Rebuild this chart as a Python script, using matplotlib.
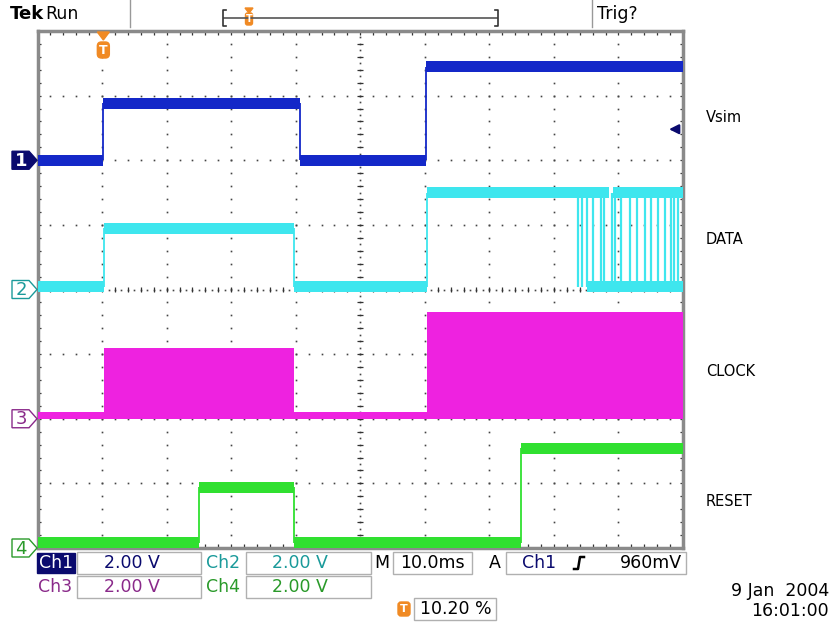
import numpy as np
import matplotlib
matplotlib.use("Agg")
import matplotlib.pyplot as plt
from matplotlib.patches import Polygon, Rectangle, FancyBboxPatch

# scope settings: 10 x 8 divisions, 2.00 V/div on every channel
volts_per_div = 2.0

# channel 1 (Vsim): edge times in divisions, level in volts between them
ch1_t = [0.0, 1.02, 4.07, 6.02, 10.0]
ch1_v = [0.0, 1.76, 0.0, 2.90]
ch1_gnd = 2.0

# channel 2 (DATA)
ch2_t = [0.0, 1.03, 3.97, 6.03, 8.37]
ch2_v = [0.08, 1.90, 0.08, 3.00]
ch2_gnd = 0.0
# toggling part at the right end of DATA
ch2_burst_start = 8.37
ch2_burst_low_start = 8.52
ch2_burst_gap = (8.85, 8.91)
ch2_burst_edges = [8.37, 8.44, 8.52, 8.60, 8.73, 8.78, 8.90, 8.95, 9.04,
                   9.18, 9.28, 9.41, 9.51, 9.62, 9.72, 9.82, 9.86, 9.93]

# channel 3 (CLOCK): upper envelope of the fast clock
ch3_t = [0.0, 1.03, 3.97, 6.03, 10.0]
ch3_top = [0.16, 2.14, 0.16, 3.26]
ch3_low = 0.16
ch3_gnd = -2.0

# channel 4 (RESET)
ch4_t = [0.0, 2.50, 3.98, 7.49, 10.0]
ch4_v = [0.16, 1.88, 0.16, 3.08]
ch4_gnd = -4.0

trig_pos = 1.02        # 10.20 % of record
trig_level = 0.96      # volts on ch1

labels = ["Vsim", "DATA", "CLOCK", "RESET"]
label_y = [117, 240, 371, 502]

c1 = "#1428c8"
c2 = "#3ee6ee"
c3 = "#ee22e0"
c4 = "#30e030"
orange = "#f08a24"
navy = "#0a0a6e"

W, H = 834, 625
fig = plt.figure(figsize=(W / 100, H / 100), dpi=100)
fig.patch.set_facecolor("white")

gl, gr, gt, gb = 37.5, 683.0, 31.0, 548.0
ax = fig.add_axes([gl / W, 1 - gb / H, (gr - gl) / W, (gb - gt) / H])
ax.set_xlim(0, 10)
ax.set_ylim(-4, 4)
ax.set_xticks([])
ax.set_yticks([])
for s in ax.spines.values():
    s.set_color("#8a8a8a")
    s.set_linewidth(2.5)

# graticule dots
gdot = dict(ls="none", marker="s", ms=1.2, color="#444444", mew=0)
fine_y = np.arange(-4, 4.001, 0.2)
fine_x = np.arange(0, 10.001, 0.2)
for xv in range(1, 10):
    if xv == 5:
        continue
    ax.plot(np.full(len(fine_y), xv), fine_y, **gdot)
for yv in range(-3, 4):
    if yv == 0:
        continue
    ax.plot(fine_x, np.full(len(fine_x), yv), **gdot)
# centre crosshair with minor ticks
ax.plot(np.full(81, 5.0), np.linspace(-4, 4, 81), **gdot)
ax.plot(np.linspace(0, 10, 101), np.zeros(101), **gdot)
ax.hlines(fine_y, 4.955, 5.045, color="#333333", lw=0.9)
ax.vlines(fine_x, -0.045, 0.045, color="#333333", lw=0.9)
# ticks along the frame
for xv in fine_x:
    ax.vlines(xv, 3.94, 4, color="#333333", lw=0.9)
    ax.vlines(xv, -4, -3.94, color="#333333", lw=0.9)
for yv in fine_y:
    ax.hlines(yv, 0, 0.05, color="#333333", lw=0.9)
    ax.hlines(yv, 9.95, 10, color="#333333", lw=0.9)

band = 0.085


def draw_trace(t, v, gnd, color, zo=3):
    y = [gnd + val / volts_per_div for val in v]
    for i in range(len(y)):
        ax.fill_between([t[i], t[i + 1]], y[i] - band, y[i] + band,
                        color=color, lw=0, zorder=zo)
        if i > 0:
            ax.vlines(t[i], min(y[i - 1], y[i]), max(y[i - 1], y[i]),
                      color=color, lw=1.3, zorder=zo)


draw_trace(ch1_t, ch1_v, ch1_gnd, c1)
draw_trace(ch2_t, ch2_v, ch2_gnd, c2)
draw_trace(ch4_t, ch4_v, ch4_gnd, c4)

# DATA burst
hi2 = ch2_gnd + ch2_v[-1] / volts_per_div
lo2 = ch2_gnd + ch2_v[0] / volts_per_div
ax.fill_between([ch2_burst_start, ch2_burst_gap[0]], hi2 - band, hi2 + band,
                color=c2, lw=0, zorder=3)
ax.fill_between([ch2_burst_gap[1], 10], hi2 - band, hi2 + band,
                color=c2, lw=0, zorder=3)
ax.fill_between([ch2_burst_low_start, 10], lo2 - band, lo2 + band,
                color=c2, lw=0, zorder=3)
ax.vlines(ch2_burst_edges, lo2, hi2, color=c2, lw=1.6, zorder=3)

# CLOCK envelope
y3low = ch3_gnd + ch3_low / volts_per_div
for i in range(len(ch3_top)):
    top = ch3_gnd + ch3_top[i] / volts_per_div
    ax.fill_between([ch3_t[i], ch3_t[i + 1]], y3low - band, top + 0.02,
                    color=c3, lw=0, zorder=3)

# trigger level arrow on the right
ty = ch1_gnd + trig_level / volts_per_div
ax.annotate("", xy=(9.74, ty), xytext=(9.97, ty),
            arrowprops=dict(arrowstyle="-|>", color=navy, lw=1.6,
                            mutation_scale=14))

# overlay in pixel coordinates for the screen furniture
ov = fig.add_axes([0, 0, 1, 1])
ov.set_xlim(0, W)
ov.set_ylim(H, 0)
ov.axis("off")
ov.patch.set_alpha(0)

font = ["Liberation Sans Narrow", "DejaVu Sans"]

# header
ov.text(10, 14, "Tek", fontsize=13, fontweight="bold", family=font,
        va="center", ha="left", color="black")
ov.text(45, 14, "Run", fontsize=12.5, family=font, va="center", ha="left")
ov.text(597, 14, "Trig?", fontsize=12.5, family=font, va="center", ha="left")
ov.plot([130, 130], [0, 27], color="#999999", lw=1)
ov.plot([592, 592], [0, 27], color="#999999", lw=1)
ov.plot([224, 497], [18, 18], color="#555555", lw=1.2)
ov.plot([226, 223, 223, 226], [10, 10, 26, 26], color="#333333", lw=1.2)
ov.plot([495, 498, 498, 495], [10, 10, 26, 26], color="#333333", lw=1.2)
ov.add_patch(Polygon([[245, 8], [253, 8], [249, 13]], color=orange))
ov.add_patch(FancyBboxPatch((245.5, 13), 7, 12, boxstyle="round,pad=0,rounding_size=2",
                            color=orange))
ov.text(249, 19.5, "T", color="white", fontsize=7, ha="center", va="center",
        fontweight="bold")

# trigger position marker on graticule
tx = gl + trig_pos * (gr - gl) / 10
ov.add_patch(Polygon([[tx - 6, 32], [tx + 6, 32], [tx, 40]], color=orange))
ov.add_patch(FancyBboxPatch((tx - 6, 42), 12, 16, boxstyle="round,pad=0,rounding_size=4",
                            color=orange))
ov.text(tx, 50, "T", color="white", fontsize=9, ha="center", va="center",
        fontweight="bold")

# channel ground markers


def ypix(div):
    return gt + (4 - div) * (gb - gt) / 8


markers = [("1", ch1_gnd, navy, True), ("2", ch2_gnd, "#1a9a9a", False),
           ("3", ch3_gnd, "#8a2a8a", False), ("4", ch4_gnd, "#2a9a2a", False)]
for num, g, col, filled in markers:
    yc = ypix(g)
    pts = [[12, yc - 9], [29, yc - 9], [37, yc], [29, yc + 9], [12, yc + 9]]
    if filled:
        ov.add_patch(Polygon(pts, closed=True, fc=col, ec=col, lw=1))
        ov.text(21, yc + 0.5, num, color="white", fontsize=13, ha="center",
                va="center", family=font, fontweight="bold")
    else:
        ov.add_patch(Polygon(pts, closed=True, fc="white", ec=col, lw=1))
        ov.text(21, yc + 0.5, num, color=col, fontsize=13, ha="center",
                va="center", family=font)

# channel names on the right
for lab, ly in zip(labels, label_y):
    ov.text(706, ly, lab, fontsize=10.5, ha="left", va="center",
            family="DejaVu Sans", color="black")

# bottom readouts
rs = 12.5
box_ec = "#b0b0b0"


def rbox(x0, x1, y0, y1):
    ov.add_patch(Rectangle((x0, y0), x1 - x0, y1 - y0, fc="white",
                           ec=box_ec, lw=1))


r1, r2, r3 = 563, 587, 609
ov.add_patch(Rectangle((37, r1 - 10), 38, 20, fc=navy, ec=navy))
ov.text(56, r1, "Ch1", color="white", fontsize=rs, family=font,
        ha="center", va="center")
rbox(77, 201, r1 - 11, r1 + 11)
ov.text(132, r1, "2.00 V", color=navy, fontsize=rs, family=font,
        ha="center", va="center")
ov.text(206, r1, "Ch2", color="#1a9a9a", fontsize=rs, family=font,
        ha="left", va="center")
rbox(246, 371, r1 - 11, r1 + 11)
ov.text(300, r1, "2.00 V", color="#1a9a9a", fontsize=rs, family=font,
        ha="center", va="center")
ov.text(374, r1, "M", color="black", fontsize=rs, family=font,
        ha="left", va="center")
rbox(393, 472, r1 - 11, r1 + 11)
ov.text(432, r1, "10.0ms", color="black", fontsize=rs, family=font,
        ha="center", va="center")
ov.text(489, r1, "A", color="black", fontsize=rs, family=font,
        ha="left", va="center")
rbox(506, 686, r1 - 11, r1 + 11)
ov.text(522, r1, "Ch1", color=navy, fontsize=rs, family=font,
        ha="left", va="center")
ov.plot([574, 578, 580, 584], [r1 + 6, r1 + 6, r1 - 6, r1 - 6],
        color="black", lw=1.8)
ov.text(682, r1, "960mV", color="black", fontsize=rs, family=font,
        ha="right", va="center")

ov.text(38, r2, "Ch3", color="#8a2a8a", fontsize=rs, family=font,
        ha="left", va="center")
rbox(77, 201, r2 - 11, r2 + 11)
ov.text(132, r2, "2.00 V", color="#8a2a8a", fontsize=rs, family=font,
        ha="center", va="center")
ov.text(206, r2, "Ch4", color="#2a9a2a", fontsize=rs, family=font,
        ha="left", va="center")
rbox(246, 371, r2 - 11, r2 + 11)
ov.text(300, r2, "2.00 V", color="#2a9a2a", fontsize=rs, family=font,
        ha="center", va="center")

ov.add_patch(FancyBboxPatch((398, r3 - 7), 12, 14, boxstyle="round,pad=0,rounding_size=3",
                            color=orange))
ov.text(404, r3, "T", color="white", fontsize=8, ha="center", va="center",
        fontweight="bold")
rbox(414, 496, r3 - 11, r3 + 11)
ov.text(420, r3, "10.20 %", color="black", fontsize=rs, family=font,
        ha="left", va="center")

ov.text(829, 591, "9 Jan  2004", color="black", fontsize=rs, family=font,
        ha="right", va="center")
ov.text(829, 611, "16:01:00", color="black", fontsize=rs, family=font,
        ha="right", va="center")

fig.savefig("out.png", dpi=100)
